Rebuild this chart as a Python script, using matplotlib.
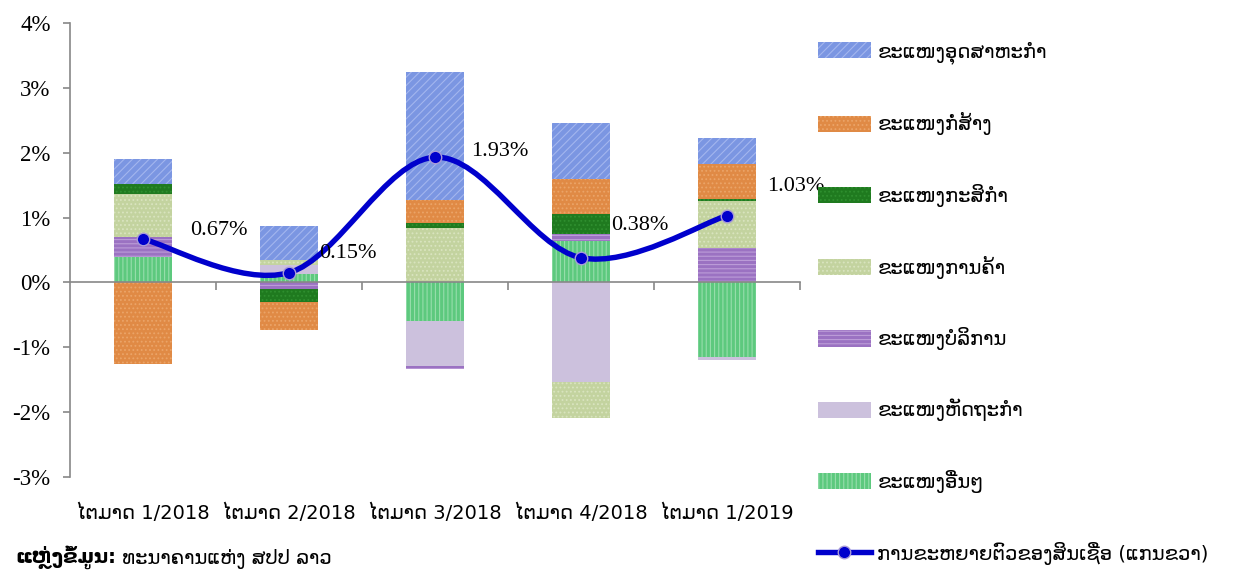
import numpy as np
import matplotlib
matplotlib.use('Agg')
import matplotlib.pyplot as plt
from matplotlib.path import Path
from matplotlib.patches import PathPatch, Patch
from matplotlib.lines import Line2D
import matplotlib.transforms as mtransforms

plt.rcParams['font.family'] = ['DejaVu Sans']
plt.rcParams['hatch.linewidth'] = 0.8

quarters = ['ໄຕມາດ 1/2018', 'ໄຕມາດ 2/2018', 'ໄຕມາດ 3/2018', 'ໄຕມາດ 4/2018', 'ໄຕມາດ 1/2019']

# sector contributions (%), legend order
industry     = [0.39, 0.53, 1.98, 0.87, 0.41]
construction = [-1.26, -0.43, 0.36, 0.54, 0.54]
agriculture  = [0.15, -0.20, 0.07, 0.30, 0.03]
trade        = [0.67, 0.07, 0.84, -0.55, 0.72]
services     = [0.31, -0.10, -0.04, 0.11, 0.53]
handicraft   = [0.00, 0.14, -0.70, -1.54, -0.05]
others       = [0.39, 0.13, -0.59, 0.64, -1.15]
credit_growth = [0.67, 0.15, 1.93, 0.38, 1.03]

sector_names = ['ຂະແໜງອຸດສາຫະກຳ', 'ຂະແໜງກໍ່ສ້າງ', 'ຂະແໜງກະສິກຳ', 'ຂະແໜງການຄ້າ',
                'ຂະແໜງບໍລິການ', 'ຂະແໜງຫັດຖະກຳ', 'ຂະແໜງອື່ນໆ']
line_name = 'ການຂະຫຍາຍຕົວຂອງສິນເຊື່ອ (ແກນຂວາ)'
source_head = 'ແຫຼ່ງຂໍ້ມູນ:'
source_body = ' ທະນາຄານແຫ່ງ ສປປ ລາວ'

# styles (face, hatch colour, hatch)
styles = [
    ('#7B96E2', '#A3B6EE', '////'),
    ('#E08A45', '#EBA468', '....'),
    ('#1F7A1F', '#2F8F2F', '....'),
    ('#C3D39F', '#D9E4BF', '....'),
    ('#9B72C2', '#BC9DD8', '----'),
    ('#CCC1DD', '#CCC1DD', ''),
    ('#5DC97E', '#97DEAC', '||||'),
]
label_offsets = [(34, 6), (22, 14), (26, 4), (22, 23), (29, 21)]

fig = plt.figure(figsize=(12.38, 5.70), dpi=100)
ax = fig.add_axes([0.0565, 0.1632, 0.5897, 0.7965])

series = [industry, construction, agriculture, trade, services, handicraft, others]
x = np.arange(len(quarters))
pos_base = np.zeros(len(x))
neg_base = np.zeros(len(x))
# stack from bottom: others first, industry last
for i in reversed(range(len(series))):
    v = np.array(series[i])
    face, hc, hatch = styles[i]
    base = np.where(v >= 0, pos_base, neg_base)
    ax.bar(x, v, width=0.4, bottom=base, color=face, edgecolor=hc,
           hatch=hatch, linewidth=0, zorder=2)
    pos_base += np.where(v >= 0, v, 0)
    neg_base += np.where(v < 0, v, 0)

# smoothed line (Catmull-Rom style bezier, like Excel's smoothed line)
y = np.array(credit_growth)
pts = np.column_stack([x, y]).astype(float)
verts = [pts[0]]
codes = [Path.MOVETO]
n = len(pts)
for i in range(n - 1):
    p0 = pts[i - 1] if i > 0 else pts[i]
    p1 = pts[i]
    p2 = pts[i + 1]
    p3 = pts[i + 2] if i + 2 < n else pts[i + 1]
    c1 = p1 + (p2 - p0) / 6.0
    c2 = p2 - (p3 - p1) / 6.0
    verts += [c1, c2, p2]
    codes += [Path.CURVE4] * 3
ax.add_patch(PathPatch(Path(verts, codes), facecolor='none', edgecolor='#0000CC',
                       lw=3.9, zorder=4, capstyle='round'))
ax.plot(x, y, linestyle='none', marker='o', ms=9, mfc='#0000CC', mec='#A99BD8',
        mew=1.0, zorder=5)

for xi, yi, off in zip(x, credit_growth, label_offsets):
    ax.annotate('%.2f%%' % yi, (xi, yi), xytext=off, textcoords='offset points',
                ha='left', va='center', fontsize=16, family='Liberation Serif', zorder=6)

ax.set_xlim(-0.5, 4.5)
ax.set_ylim(-3, 4)
ax.set_yticks(range(-3, 5))
ax.set_yticklabels(['%d%%' % t for t in range(-3, 5)], family='Liberation Serif', fontsize=16.5)
ax.set_xticks(np.arange(0.5, 5, 1.0))
ax.set_xticklabels([])
ax.tick_params(axis='y', length=5, width=1.2, color='#888888', pad=9)
ax.tick_params(axis='x', length=6, width=1.2, color='#888888', direction='out')
ax.spines['bottom'].set_position(('data', 0))
for s in ['top', 'right']:
    ax.spines[s].set_visible(False)
for s in ['left', 'bottom']:
    ax.spines[s].set_color('#888888')
    ax.spines[s].set_linewidth(1.2)

trans = mtransforms.blended_transform_factory(ax.transData, ax.transAxes)
for xi, q in zip(x, quarters):
    ax.text(xi, -0.08, q, transform=trans, ha='center', va='center', fontsize=14)

handles = [Patch(facecolor=styles[i][0], edgecolor=styles[i][1], hatch=styles[i][2],
                 linewidth=0) for i in range(len(series))]
handles.append(Line2D([], [], color='#0000CC', lw=3.9, marker='o', ms=9,
                      mfc='#0000CC', mec='#A99BD8'))
fig.legend(handles, sector_names + [line_name], loc='upper left',
           bbox_to_anchor=(818 / 1238, 1 - 41 / 570), frameon=False, fontsize=14,
           handlelength=2.7, handleheight=0.9, labelspacing=2.5, handletextpad=0.35,
           borderpad=0, borderaxespad=0)

head = fig.text(15 / 1238, 1 / 570, source_head, fontsize=14, fontweight='bold', va='bottom')
fig.text(0, 0, source_body, fontsize=14, va='bottom',
         transform=mtransforms.offset_copy(head.get_transform(), fig=fig, x=0, y=0))
fig.canvas.draw()
bb = head.get_window_extent()
fig.texts[-1].set_position((bb.x1 / fig.bbox.width, 1 / 570))
fig.texts[-1].set_transform(fig.transFigure)

plt.savefig('out.png', dpi=100)
